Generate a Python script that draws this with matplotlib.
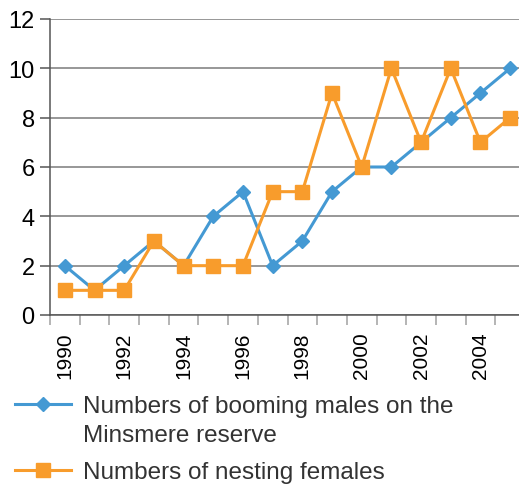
import numpy as np
import matplotlib.pyplot as plt
from matplotlib.lines import Line2D
from matplotlib.ticker import FixedLocator

plt.rcParams['font.family'] = ['Liberation Sans', 'DejaVu Sans']

years = list(range(1990, 2006))
booming_males = [2, 1, 2, 3, 2, 4, 5, 2, 3, 5, 6, 6, 7, 8, 9, 10]
nesting_females = [1, 1, 1, 3, 2, 2, 2, 5, 5, 9, 6, 10, 7, 10, 7, 8]
year_labels = [str(y) if y % 2 == 0 else "" for y in years]
legend_labels = ["Numbers of booming males on the\nMinsmere reserve",
                 "Numbers of nesting females"]

blue = "#4499d3"
orange = "#f89c2c"

W, H = 519, 485
fig = plt.figure(figsize=(W/100, H/100), dpi=100)
ax = fig.add_axes([50/W, 1-316/H, 475/W, 296/H])

x = np.arange(len(years))
ax.plot(x, booming_males, color=blue, lw=2.2, marker="D", ms=7.2,
        zorder=3, clip_on=False)
ax.plot(x, nesting_females, color=orange, lw=2.2, marker="s", ms=9.5,
        zorder=4, clip_on=False)

ax.set_xlim(-0.5, len(years) - 0.5)
ax.set_ylim(0, 12)
ax.set_yticks(range(0, 13, 2))
ax.yaxis.grid(True, color="#7a7a7a", lw=1.1)
ax.set_axisbelow(True)

ax.set_xticks(x)
ax.set_xticklabels(year_labels, rotation=90, fontsize=15)
ax.xaxis.set_minor_locator(FixedLocator(np.arange(-0.5, len(years), 1.0)))
ax.tick_params(axis="x", which="major", length=0, pad=12)
ax.tick_params(axis="x", which="minor", length=7, width=1.1, color="#a0a0a0")
ax.tick_params(axis="y", length=7, width=1.1, color="#555555", pad=4,
               labelsize=17)

for s in ["top", "right"]:
    ax.spines[s].set_visible(False)
for s in ["left", "bottom"]:
    ax.spines[s].set_color("#555555")
    ax.spines[s].set_linewidth(1.1)

# legend below the plot, handle lined up with the first text line
entries = [(legend_labels[0], blue, "D", 7.2, 405),
           (legend_labels[1], orange, "s", 9.5, 471)]
for label, col, mk, ms, yc in entries:
    yf = 1 - yc/H
    fig.add_artist(Line2D([15/W, 71/W], [yf, yf], color=col, lw=2.2))
    fig.add_artist(Line2D([43/W], [yf], color=col, marker=mk, ms=ms, lw=0))
    for i, line in enumerate(label.split("\n")):
        fig.text(83/W, 1 - (yc + 28*i)/H, line, fontsize=17.5,
                 color="#333333", va="center_baseline", ha="left")

fig.savefig("out.png", dpi=100)
